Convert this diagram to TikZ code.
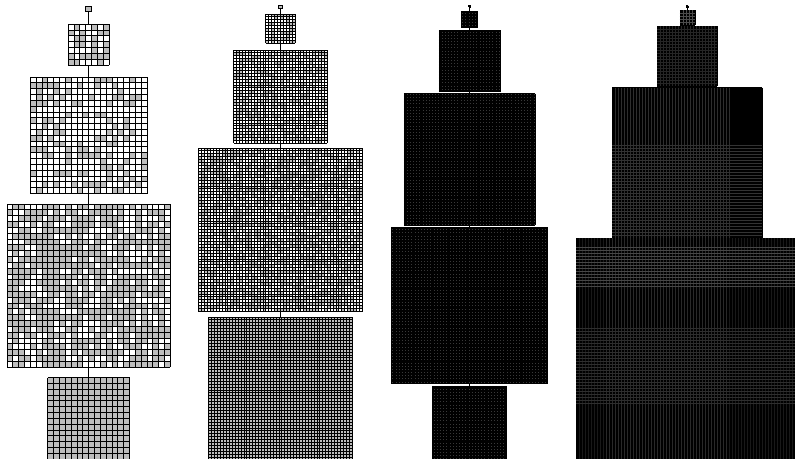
\documentclass[tikz,border=0pt]{standalone}
\colorlet{cellgray}{black!26}
\tikzset{
  blockbox/.style={inner sep=0pt, outer sep=0pt},
  cellline/.style={line width=0.7pt},
  fineline/.style={line width=0.45pt},
  glint/.style={line width=0.25pt},
  link/.style={line width=0.6pt},
}
% name, cx, top, cells, cell size, share of gray cells
\newcommand{\gridblock}[6]{%
  \pgfmathsetmacro{\gw}{#4*#5}
  \pgfmathsetmacro{\gx}{#2-\gw/2}
  \node[blockbox, minimum size=\gw*0.75pt] (#1) at (#2,#3+\gw/2) {};
  \ifdim #6pt>0.999pt
    \fill[cellgray] (\gx,#3) rectangle ++(\gw,\gw);
  \else
    \foreach \i in {1,...,#4} {
      \foreach \j in {1,...,#4} {
        \pgfmathsetmacro{\rr}{rnd}
        \ifdim\rr pt<#6pt
          \fill[cellgray] (\gx+\i*#5-#5,#3+\j*#5-#5) rectangle ++(#5,#5);
        \fi
      }
    }
  \fi
  \foreach \k in {0,...,#4} {
    \draw[cellline] (\gx+\k*#5,#3) -- ++(0,\gw);
    \draw[cellline] (\gx,#3+\k*#5) -- ++(\gw,0);
  }
}
% name, cx, top, cells, cell size, fill colour
\newcommand{\darkblock}[6]{%
  \pgfmathsetmacro{\gw}{#4*#5}
  \pgfmathsetmacro{\gx}{#2-\gw/2}
  \node[blockbox, minimum size=\gw*0.75pt] (#1) at (#2,#3+\gw/2) {};
  \fill[#6] (\gx,#3) rectangle ++(\gw,\gw);
  \foreach \k in {0,...,#4} {
    \draw[fineline] (\gx+\k*#5,#3) -- ++(0,\gw);
    \draw[fineline] (\gx,#3+\k*#5) -- ++(\gw,0);
  }
}
\begin{document}
\begin{tikzpicture}[x=0.75pt,y=-0.75pt]
\useasboundingbox (0,0) rectangle (795,458);
\clip (0,0) rectangle (795,458);
\pgfmathsetseed{17}

\gridblock{c1a}{88.7}{6}{1}{5.83}{1}
\gridblock{c1b}{88.7}{24.3}{7}{5.83}{0.38}
\gridblock{c1c}{88.7}{77}{20}{5.83}{0.30}
\gridblock{c1d}{88.7}{204}{28}{5.83}{0.68}
\gridblock{c1e}{88.7}{377.5}{14}{5.83}{1}
\draw[link] (c1a.south) -- (c1b.north);
\draw[link] (c1b.south) -- (c1c.north);
\draw[link] (c1c.south) -- (c1d.north);
\draw[link] (c1d.south) -- (c1e.north);

\gridblock{c2a}{280.5}{5.3}{1}{3.3}{1}
\gridblock{c2b}{280.5}{14}{10}{2.92}{0.45}
\gridblock{c2c}{280.5}{50}{32}{2.92}{0.38}
\gridblock{c2d}{280.5}{148}{56}{2.92}{0.50}
\gridblock{c2e}{280.5}{317}{49}{2.92}{1}
\draw[link] (c2a.south) -- (c2b.north);
\draw[link] (c2b.south) -- (c2c.north);
\draw[link] (c2c.south) -- (c2d.north);
\draw[link] (c2d.south) -- (c2e.north);

\darkblock{c3a}{469.5}{5}{1}{2}{black}
\darkblock{c3b}{469.5}{11.2}{11}{1.46}{black!78}
\darkblock{c3c}{469.5}{30.3}{42}{1.46}{black!78}
\darkblock{c3d}{469.5}{93.6}{90}{1.46}{black!78}
\darkblock{c3e}{469.5}{227}{107}{1.46}{black!78}
\darkblock{c3f}{469.5}{385.8}{51}{1.46}{black!78}
\draw[link] (c3a.south) -- (c3b.north);
\draw[link] (c3b.south) -- (c3c.north);
\draw[link] (c3c.south) -- (c3d.north);
\draw[link] (c3d.south) -- (c3e.north);
\draw[link] (c3e.south) -- (c3f.north);

\darkblock{c4a}{687.3}{5.7}{1}{2}{black}
\darkblock{c4b}{687.3}{10}{5}{3}{black}
\darkblock{c4c}{687.3}{26.3}{20}{3}{black}
\darkblock{c4d}{687.3}{87.7}{50}{3}{black}
\darkblock{c4e}{687.3}{238.2}{74}{3}{black}
\draw[link] (c4a.south) -- (c4b.north);
\draw[link] (c4b.south) -- (c4c.north);
\draw[link] (c4c.south) -- (c4d.north);
\draw[link] (c4d.south) -- (c4e.north);

\foreach \k in {1,...,4} {
  \draw[glint, black!70] (679.8+\k*3,10) -- ++(0,15);
  \draw[glint, black!70] (679.8,10+\k*3) -- ++(15,0);
}
\foreach \k in {1,...,19} {
  \draw[glint, black!85] (657.3+\k*3,26.3) -- ++(0,60);
  \draw[glint, black!85] (657.3,26.3+\k*3) -- ++(60,0);
}
\foreach \k in {1,...,39} \draw[glint, black!82] (612.3+\k*3,87.7) -- ++(0,150);
\foreach \k in {19,...,49} \draw[glint, black!80] (612.3,87.7+\k*3) -- ++(150,0);
\foreach \k in {1,...,73} \draw[glint, black!90] (576.3+\k*3,238.2) -- ++(0,222);
\foreach \k in {10,...,50} \draw[glint, black!84] (576.3+\k*3,238.2) -- ++(0,222);
\foreach \k in {3,...,16} \draw[glint, black!72] (576.3,238.2+\k*3) -- ++(222,0);
\foreach \k in {30,...,55} \draw[glint, black!82] (576.3,238.2+\k*3) -- ++(222,0);
\end{tikzpicture}
\end{document}
